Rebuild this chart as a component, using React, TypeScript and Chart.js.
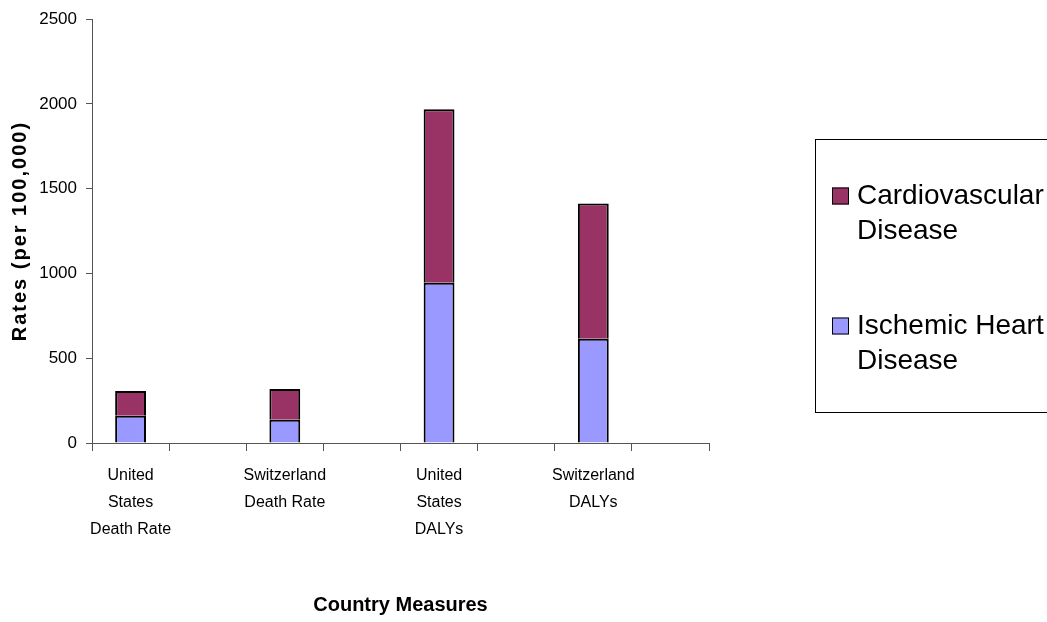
import React, { useEffect, useRef } from "react";
import { Chart, registerables } from "chart.js";

Chart.register(...registerables);

const categories: (string | string[])[] = [
  ["United", "States", "Death Rate"],
  "",
  ["Switzerland", "Death Rate"],
  "",
  ["United", "States", "DALYs"],
  "",
  ["Switzerland", "DALYs"],
  "",
];
const ischemicHeart: (number | null)[] = [161, null, 137, null, 945, null, 615, null];
const cardiovascular: (number | null)[] = [146, null, 181, null, 1024, null, 798, null];
const seriesNames = ["Ischemic Heart Disease", "Cardiovascular Disease"];
const legendLines: string[][] = [["Cardiovascular", "Disease"], ["Ischemic Heart", "Disease"]];
const yTicks = { min: 0, max: 2500, step: 500 };
const yTitle = "Rates (per 100,000)";
const xTitle = "Country Measures";

const SANS = '"Liberation Sans", Arial, sans-serif';

const overlayPlugin = {
  id: "overlay",
  afterDraw(chart: any) {
    const ctx = chart.ctx as CanvasRenderingContext2D;
    const area = chart.chartArea;
    ctx.save();
    // Y title
    ctx.fillStyle = "#000";
    ctx.font = `bold 20px ${SANS}`;
    (ctx as any).letterSpacing = "2px";
    ctx.textAlign = "center";
    ctx.textBaseline = "middle";
    ctx.translate(20, (area.top + area.bottom) / 2);
    ctx.rotate(-Math.PI / 2);
    ctx.fillText(yTitle, 0, 0);
    ctx.restore();

    ctx.save();
    (ctx as any).letterSpacing = "0px";
    ctx.fillStyle = "#000";
    ctx.font = `bold 20px ${SANS}`;
    ctx.textAlign = "center";
    ctx.textBaseline = "middle";
    ctx.fillText(xTitle, (area.left + area.right) / 2, 605);
    ctx.restore();

    // Legend box
    ctx.save();
    ctx.strokeStyle = "#000";
    ctx.lineWidth = 1;
    ctx.strokeRect(815.5, 139.5, 300, 273);
    const order = [1, 0];
    const ys = [196, 326];
    order.forEach((dsIndex, i) => {
      const ds = chart.data.datasets[dsIndex];
      const y = ys[i];
      ctx.fillStyle = ds.backgroundColor;
      ctx.fillRect(832, y - 8.5, 17, 17);
      ctx.strokeStyle = "#000";
      ctx.lineWidth = 1;
      ctx.strokeRect(832.5, y - 8, 16, 16);
      ctx.fillStyle = "#000";
      ctx.font = `28px ${SANS}`;
      ctx.textAlign = "left";
      ctx.textBaseline = "middle";
      legendLines[i].forEach((line, j) => {
        ctx.fillText(line, 857, y + j * 35);
      });
    });
    ctx.restore();
  },
};

export default function App() {
  const ref = useRef<HTMLCanvasElement>(null);
  useEffect(() => {
    if (!ref.current) return;
    const chart = new Chart(ref.current, {
      type: "bar",
      data: {
        labels: categories,
        datasets: [
          {
            label: seriesNames[0],
            data: ischemicHeart,
            backgroundColor: "#9999FF",
            borderColor: "#000",
            borderWidth: 2,
          },
          {
            label: seriesNames[1],
            data: cardiovascular,
            backgroundColor: "#993366",
            borderColor: "#000",
            borderWidth: 2,
          },
        ],
      },
      options: {
        animation: false,
        responsive: false,
        devicePixelRatio: 1,
        layout: { padding: { left: 0, top: 19, right: 338, bottom: 0 } },
        plugins: { legend: { display: false }, tooltip: { enabled: false } },
        datasets: { bar: { categoryPercentage: 1, barPercentage: 0.4 } },
        scales: {
          x: {
            stacked: true,
            grid: {
              display: true,
              drawOnChartArea: false,
              drawTicks: true,
              tickLength: 8,
              offset: true,
              color: "#555",
            },
            border: { display: true, color: "#555", width: 1 },
            ticks: {
              autoSkip: false,
              maxRotation: 0,
              minRotation: 0,
              padding: 11,
              color: "#000",
              font: { family: SANS, size: 16, lineHeight: 1.69 },
            },
            afterFit: (scale: any) => {
              scale.height = 179;
            },
          },
          y: {
            stacked: true,
            min: yTicks.min,
            max: yTicks.max,
            grid: {
              display: true,
              drawOnChartArea: false,
              drawTicks: true,
              tickLength: 6,
              color: "#555",
            },
            border: { display: true, color: "#555", width: 1 },
            ticks: {
              stepSize: yTicks.step,
              padding: 9,
              color: "#000",
              font: { family: SANS, size: 17 },
              callback: (v: any) => String(v),
            },
            afterFit: (scale: any) => {
              scale.width = 92;
            },
          },
        },
      },
      plugins: [overlayPlugin],
    });
    return () => chart.destroy();
  }, []);
  return (
    <div style={{ position: "fixed", left: 0, top: 0, width: 1047, height: 622, background: "#fff" }}>
      <canvas ref={ref} width={1047} height={622} style={{ width: 1047, height: 622 }} />
    </div>
  );
}
